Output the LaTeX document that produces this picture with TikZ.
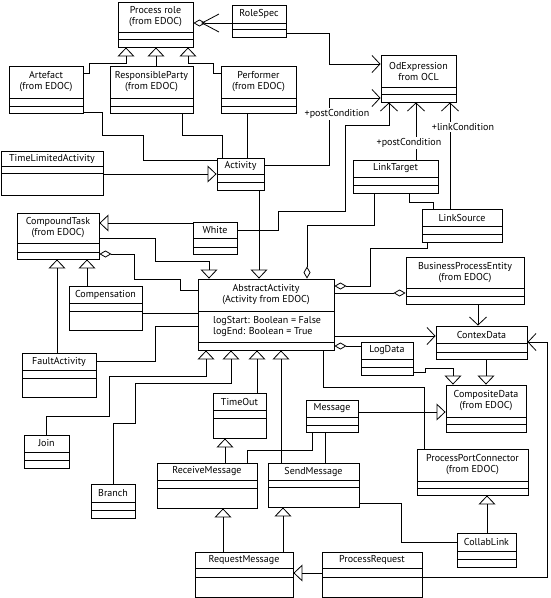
\documentclass[tikz,border=0pt]{standalone}
\usepackage{fontspec}
\setmainfont{PT Sans}
\usetikzlibrary{arrows.meta,fit}
\tikzset{
  clsbox/.style={draw, line width=0.9pt, inner sep=0pt},
  clsline/.style={line width=0.9pt},
  clstext/.style={font=\fontsize{10}{11}\selectfont, align=center, inner sep=0pt},
  conn/.style={line width=0.8pt},
  gen/.style={conn, -{Triangle[open,length=9pt,width=17pt]}},
  nav/.style={conn, -{Straight Barb[length=8pt,width=17pt]}},
  agg/.style={conn, {Diamond[open,length=12pt,width=7pt]}-},
  lbl/.style={font=\fontsize{10}{11}\selectfont, fill=white, inner sep=1pt},
}
\newcommand\umlclass[8]{%
  \node[clsbox, fit={(#2,#3) (#4,#5)}] (#1) {};
  \draw[clsline] (#2,#6) -- (#4,#6) (#2,#7) -- (#4,#7);
  \node[clstext] (#1-t) at ({(#2+#4)/2},{(#3+#6)/2}) {#8};
}
\begin{document}
\begin{tikzpicture}[x=1pt,y=-1pt]
\useasboundingbox (0,0) rectangle (550,598);
% classes
\umlclass{pr}{118}{2}{193}{47}{32}{39}{Process role\\(from EDOC)}
\umlclass{rs}{232}{5}{286}{37}{23}{29}{RoleSpec}
\umlclass{art}{9}{66}{83}{113}{98}{106}{Artefact\\(from EDOC)}
\umlclass{rp}{110}{66}{193}{113}{98}{106}{ResponsibleParty\\(from EDOC)}
\umlclass{perf}{221}{66}{296}{113}{98}{106}{Performer\\(from EDOC)}
\umlclass{ode}{381}{55}{456}{102}{87}{94}{OdExpression\\from OCL}
\umlclass{tla}{1}{151}{103}{195}{166}{173}{TimeLimitedActivity}
\umlclass{act}{217}{158}{264}{190}{174}{182}{Activity}
\umlclass{lt}{353}{160}{438}{193}{177}{185}{LinkTarget}
\umlclass{ct}{17}{213}{99}{259}{243}{252}{CompoundTask\\(from EDOC)}
\umlclass{wh}{193}{222}{237}{254}{238}{247}{White}
\umlclass{ls}{422}{209}{502}{242}{226}{234}{LinkSource}
\umlclass{aa}{198}{279}{334}{350}{311}{342}{AbstractActivity\\(Activity from EDOC)}
\node[clstext, align=left, anchor=west] (aa-attr) at (213,326) {logStart: Boolean = False\\logEnd: Boolean = True};
\umlclass{bpe}{406}{257}{524}{304}{288}{296}{BusinessProcessEntity\\(from EDOC)}
\umlclass{comp}{69}{286}{142}{330}{303}{311}{Compensation}
\umlclass{cd}{436}{326}{527}{359}{343}{352}{ContexData}
\umlclass{ld}{361}{342}{413}{375}{359}{367}{LogData}
\umlclass{fa}{22}{353}{96}{397}{370}{378}{FaultActivity}
\umlclass{cpd}{446}{385}{526}{432}{417}{424}{CompositeData\\(from EDOC)}
\umlclass{to}{213}{393}{266}{438}{410}{418}{TimeOut}
\umlclass{msg}{306}{400}{358}{432}{417}{425}{Message}
\umlclass{join}{24}{435}{69}{468}{452}{460}{Join}
\umlclass{ppc}{417}{449}{528}{495}{481}{488}{ProcessPortConnector\\(from EDOC)}
\umlclass{rm}{157}{463}{257}{508}{480}{488}{ReceiveMessage}
\umlclass{sm}{268}{463}{359}{507}{480}{487}{SendMessage}
\umlclass{br}{91}{484}{135}{518}{502}{510}{Branch}
\umlclass{cl}{457}{533}{516}{567}{551}{559}{CollabLink}
\umlclass{rqm}{195}{552}{293}{597}{568}{577}{RequestMessage}
\umlclass{prq}{322}{552}{422}{597}{568}{577}{ProcessRequest}
% connectors
\draw[gen] (art.east |- 0,73) -- (89,73) -- (89,63) -- (126,63) -- (126,0 |- pr.south);
\draw[gen] (156,0 |- rp.north) -- (156,0 |- pr.south);
\draw[gen] (perf.west |- 0,73) -- (213,73) -- (213,63) -- (188,63) -- (188,0 |- pr.south);
\draw[agg] (pr.east |- 0,23) -- (rs.west |- 0,23);
\draw[conn] (219,14) -- (202,23) -- (219,32);
\draw[nav] (rs.east |- 0,33) -- (329,33) -- (329,64) -- (ode.west |- 0,64);
\draw[nav] (act.east |- 0,165) -- (329,165) -- (329,98) -- (ode.west |- 0,98);
\node[lbl] (l1) at (337,114) {+postCondition};
\draw[nav] (416,0 |- lt.north) -- (416,0 |- ode.south);
\node[lbl] (l2) at (409,143) {+postCondition};
\draw[nav] (450,0 |- ls.north) -- (450,0 |- ode.south);
\node[lbl] (l3) at (463,127) {+linkCondition};
\draw[nav] (wh.east |- 0,230) -- (278,230) -- (278,211) -- (345,211) -- (345,125) -- (389,125) -- (389,0 |- ode.south);
\draw[gen] (tla.east |- 0,174) -- (act.west |- 0,174);
\draw[conn] (art.east |- 0,112) -- (102,112) -- (102,135) -- (143,135) -- (143,160) -- (act.west |- 0,160);
\draw[conn] (182,0 |- rp.south) -- (182,135) -- (222,135) -- (222,0 |- act.north);
\draw[conn] (247,0 |- perf.south) -- (247,0 |- act.north);
\draw[gen] (259,0 |- act.south) -- (259,0 |- aa.north);
\draw[gen] (wh.west |- 0,223) -- (ct.east |- 0,223);
\draw[gen] (ct.east |- 0,238) -- (155,238) -- (155,261) -- (209,261) -- (209,0 |- aa.north);
\draw[agg] (ct.east |- 0,254) -- (134,254) -- (134,279) -- (180,279) -- (180,290) -- (aa.west |- 0,290);
\draw[gen] (87,0 |- comp.north) -- (87,0 |- ct.south);
\draw[gen] (57,0 |- fa.north) -- (57,0 |- ct.south);
\draw[conn] (comp.east |- 0,313) -- (aa.west |- 0,313);
\draw[conn] (fa.east |- 0,361) -- (155,361) -- (155,326) -- (aa.west |- 0,326);
\draw[agg] (307,0 |- aa.north) -- (307,225) -- (374,225) -- (374,0 |- lt.south);
\draw[conn] (409,0 |- lt.south) -- (409,202) -- (433,202) -- (433,0 |- ls.north);
\draw[agg] (aa.east |- 0,286) -- (370,286) -- (370,248) -- (427,248) -- (427,0 |- ls.south);
\draw[agg] (bpe.west |- 0,293) -- (aa.east |- 0,293);
\draw[nav] (478,0 |- bpe.south) -- (478,0 |- cd.north);
\draw[nav] (aa.east |- 0,336) -- (cd.west |- 0,336);
\draw[nav] (prq.east |- 0,577) -- (547,577) -- (547,342) -- (cd.east |- 0,342);
\draw[agg] (aa.east |- 0,346) -- (ld.west |- 0,346);
\draw[gen] (ld.east |- 0,372) -- (425,372) -- (425,368) -- (453,368) -- (453,0 |- cpd.north);
\draw[gen] (486,0 |- cd.south) -- (486,0 |- cpd.north);
\draw[gen] (msg.east |- 0,412) -- (cpd.west |- 0,412);
\draw[conn] (323,0 |- aa.south) -- (323,387) -- (424,387) -- (424,0 |- ppc.north);
\draw[gen] (487,0 |- cl.north) -- (487,0 |- ppc.south);
\draw[conn] (sm.east |- 0,503) -- (401,503) -- (401,542) -- (cl.west |- 0,542);
\draw[gen] (225,0 |- rm.north) -- (225,0 |- to.south);
\draw[conn] (312,0 |- msg.south) -- (312,450) -- (247,450) -- (247,0 |- rm.north);
\draw[conn] (325,0 |- msg.south) -- (325,0 |- sm.north);
\draw[gen] (281,0 |- sm.north) -- (281,0 |- aa.south);
\draw[gen] (257,0 |- to.north) -- (257,0 |- aa.south);
\draw[gen] (46,0 |- join.north) -- (46,416) -- (109,416) -- (109,376) -- (206,376) -- (206,0 |- aa.south);
\draw[gen] (113,0 |- br.north) -- (113,423) -- (135,423) -- (135,383) -- (231,383) -- (231,0 |- aa.south);
\draw[gen] (223,0 |- rqm.north) -- (223,0 |- rm.south);
\draw[gen] (283,0 |- rqm.north) -- (283,0 |- sm.south);
\draw[gen] (prq.west |- 0,573) -- (rqm.east |- 0,573);
\end{tikzpicture}
\end{document}
